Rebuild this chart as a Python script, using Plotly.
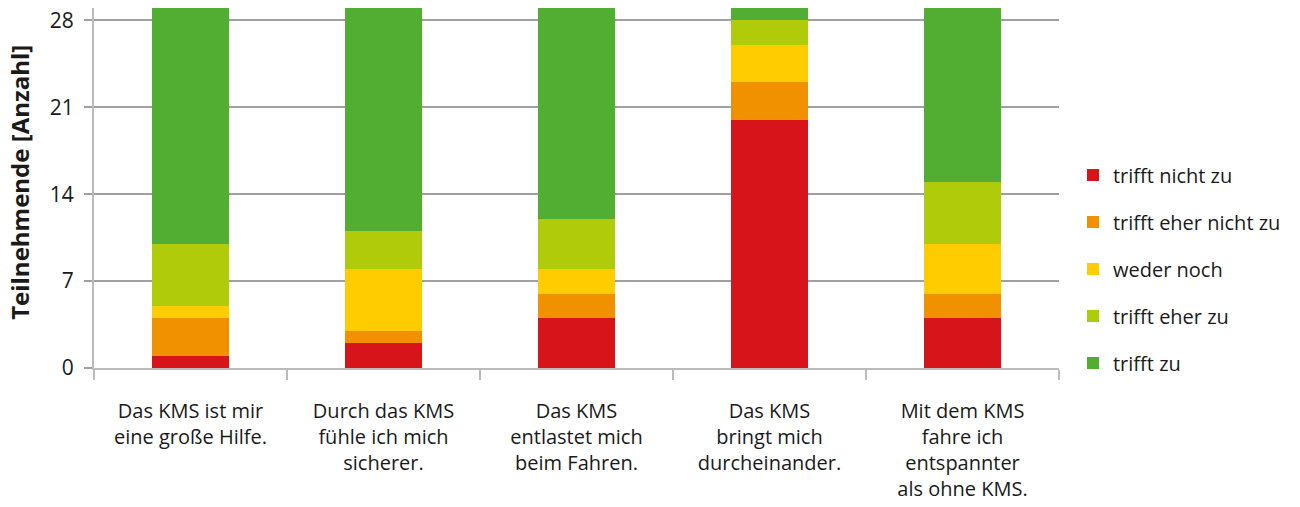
import plotly.graph_objects as go

statements = [
    "Das KMS ist mir<br>eine große Hilfe.",
    "Durch das KMS<br>fühle ich mich<br>sicherer.",
    "Das KMS<br>entlastet mich<br>beim Fahren.",
    "Das KMS<br>bringt mich<br>durcheinander.",
    "Mit dem KMS<br>fahre ich<br>entspannter<br>als ohne KMS.",
]

trifft_nicht_zu = [1, 2, 4, 20, 4]
trifft_eher_nicht_zu = [3, 1, 2, 3, 2]
weder_noch = [1, 5, 2, 3, 4]
trifft_eher_zu = [5, 3, 4, 2, 5]
trifft_zu = [19, 18, 17, 1, 14]

y_ticks = [0, 7, 14, 21, 28]

series = [
    ("trifft nicht zu", trifft_nicht_zu, "#D7141A"),
    ("trifft eher nicht zu", trifft_eher_nicht_zu, "#F29100"),
    ("weder noch", weder_noch, "#FFCC00"),
    ("trifft eher zu", trifft_eher_zu, "#AFCB0A"),
    ("trifft zu", trifft_zu, "#52AE32"),
]

fig = go.Figure()
for name, values, color in series:
    fig.add_trace(
        go.Bar(
            name=name,
            x=statements,
            y=values,
            marker=dict(color=color, line=dict(width=0)),
            width=0.4,
            legendgroup=name,
        )
    )

font = "Open Sans, Noto Sans, sans-serif"

fig.update_layout(
    barmode="stack",
    width=1300,
    height=507,
    margin=dict(l=94, r=241, t=8, b=139),
    plot_bgcolor="white",
    paper_bgcolor="white",
    font=dict(family=font, size=21, color="#1a1a1a"),
    legend=dict(
        traceorder="grouped",
        tracegroupgap=18,
        x=1.0145,
        xanchor="left",
        y=0.275,
        yanchor="middle",
        font=dict(size=20),
        itemclick=False,
    ),
)

# y axis title as an annotation so it can sit close to the left edge
fig.add_annotation(
    text="<b>Teilnehmende [Anzahl]</b>",
    textangle=-90,
    xref="paper",
    yref="paper",
    x=-0.0767,
    y=0.517,
    xanchor="center",
    yanchor="middle",
    showarrow=False,
    font=dict(size=24),
)

fig.update_xaxes(
    automargin=False,
    showline=True,
    linecolor="#BBBBBB",
    linewidth=2,
    ticks="outside",
    tickson="boundaries",
    ticklen=10,
    tickcolor="#BBBBBB",
    tickwidth=2,
    ticklabelstandoff=24,
    ticklabeloverflow="allow",
    tickfont=dict(size=20),
)

fig.update_yaxes(
    automargin=False,
    range=[0, 29],
    tickvals=y_ticks,
    showline=True,
    linecolor="#BBBBBB",
    linewidth=2,
    showgrid=True,
    gridcolor="#A0A0A0",
    gridwidth=2,
    ticks="outside",
    ticklen=8,
    tickcolor="#A0A0A0",
    tickwidth=2,
    ticklabelstandoff=6,
    ticklabeloverflow="allow",
    zeroline=False,
    tickfont=dict(size=21),
)

# drop the default 8px body margin so the figure fills the window
fig.write_html(
    "out.html",
    config={"displayModeBar": False},
    post_script="document.body.style.margin = '0';",
)
